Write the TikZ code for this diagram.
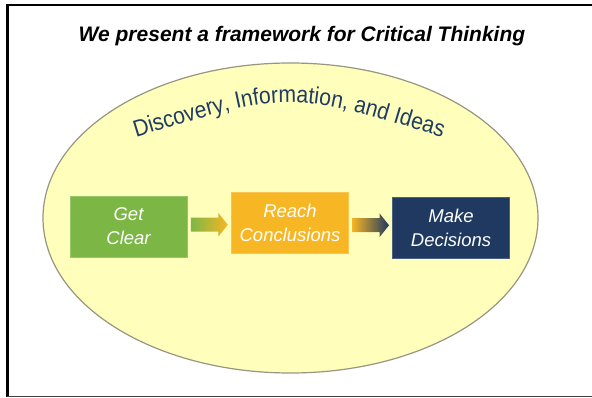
\documentclass[tikz,border=0pt]{standalone}
\usepackage{fontspec}
\setmainfont{Liberation Sans}
\newfontfamily\gcarcfont[FakeStretch=0.9]{Liberation Sans}
\usetikzlibrary{decorations.text,calc}
\definecolor{gcgreen}{RGB}{124,183,70}
\definecolor{gcorange}{RGB}{247,182,36}
\definecolor{gcnavy}{RGB}{31,57,96}
\definecolor{arcnavy}{RGB}{30,60,100}
\definecolor{ellfill}{RGB}{255,255,187}
\definecolor{ellline}{RGB}{150,150,130}
\newcommand{\gcblockarrow}[3]{%
  \shade[left color=#2,right color=#3]
    ($(#1)+(-18.5,-7)$) -- ($(#1)+(9,-7)$) -- ($(#1)+(9,-12)$) --
    ($(#1)+(18.5,0)$) -- ($(#1)+(9,12)$) -- ($(#1)+(9,7)$) --
    ($(#1)+(-18.5,7)$) -- cycle;}
\begin{document}
\begin{tikzpicture}[x=1pt,y=-1pt,
  stepbox/.style={inner sep=0pt, minimum width=117pt, minimum height=61pt,
    align=center, text=white, font=\itshape\fontsize{18.5}{24}\selectfont},
  titletext/.style={font=\bfseries\itshape\fontsize{21}{25}\selectfont}]
\useasboundingbox (0,0) rectangle (592,398);
\fill[white] (0,0) rectangle (592,398);
% frame
\draw[line width=2.6pt,black] (592,5) -- (7.2,5) -- (7.2,397);
\draw[line width=1.4pt,black!75] (7.2,396.6) -- (592,396.6);
% title
\node[titletext, anchor=base] (title) at (302,42) {We present a framework for Critical Thinking};
% ellipse
\draw[line width=1.2pt, ellline, fill=ellfill] (290.5,218) ellipse [x radius=247.5pt, y radius=155pt];
% arc text
\path[decorate, decoration={text along path, text align=center,
  text={|\gcarcfont\fontsize{23.5}{23.5}\selectfont\color{arcnavy}|Discovery, Information, and Ideas}}]
  (131,139) .. controls (290,90) .. (447,139);
% boxes
\node[stepbox, fill=gcgreen, draw=gcgreen!80!white, line width=0.8pt] (get) at (128.5,226.5) {Get\\Clear};
\node[stepbox, fill=gcorange, draw=gcorange!80!white, line width=0.8pt] (reach) at (290,223) {Reach\\Conclusions};
\node[stepbox, fill=gcnavy, draw=gcnavy!80!white, line width=0.8pt] (make) at (451,227.5) {Make\\Decisions};
% arrows
\coordinate (m1) at ($(get.east)!.5!(reach.west)$);
\coordinate (m2) at ($(reach.east)!.5!(make.west)$);
\gcblockarrow{m1}{gcgreen}{gcorange}
\gcblockarrow{m2}{gcorange}{gcnavy}
\end{tikzpicture}
\end{document}
